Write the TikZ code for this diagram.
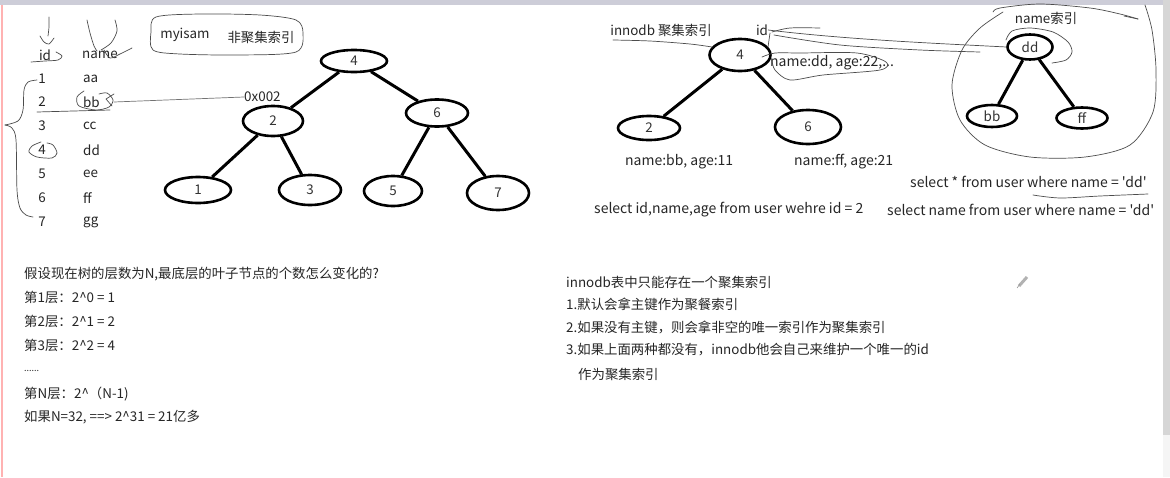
\documentclass[tikz,border=0pt]{standalone}
\usepackage{fontspec}
\newfontfamily\cjk{Noto Sans CJK SC}
\usetikzlibrary{shapes.geometric}
\tikzset{
  txt/.style={font=\cjk\fontsize{13.4}{15}\selectfont, text=black!85, inner sep=0pt},
  ltxt/.style={font=\cjk\fontsize{14}{16}\selectfont, text=black!85, inner sep=0pt},
  tnode/.style={ellipse, draw, line width=2.6pt, inner sep=0pt, font=\cjk\fontsize{13.4}{15}\selectfont, text=black!80},
  tedge/.style={line width=3pt},
  hand/.style={draw=black!70, line width=0.7pt, line cap=round, line join=round}
}
\begin{document}
\begin{tikzpicture}[x=1pt,y=-1pt]
\useasboundingbox (0,0) rectangle (1170,477);
\fill[white] (0,0) rectangle (1170,477);
% window frame
\fill[blue!12!gray!35] (0,0) rectangle (1163,5);
\fill[gray!32] (1163,0) rectangle (1170,435);
\fill[gray!8] (1163,435) rectangle (1170,477);
\draw[red!30, line width=1.2pt] (2,5) -- (2,477);

% ---------- left table ----------
\node[txt] (idh) at (45,55) {id};
\node[txt] (nameh) at (100,55) {name};
\foreach \i/\v/\y in {1/aa/79,2/bb/102,3/cc/126,4/dd/150,5/ee/174,6/ff/198,7/gg/222} {
  \node[txt] (i\i) at (42,\y) {\i};
  \node[txt,anchor=west] (v\i) at (83,\y) {\v};
}
\node[txt,anchor=west] (addr) at (244,97) {0x002};
\draw[hand, draw=black!55] ([xshift=14pt]v2.east) -- (addr.west);

% scribbles on table
\draw[hand] plot[smooth] coordinates {(49,17) (49,27) (48,36)};
\draw[hand] plot[smooth] coordinates {(40,36) (44,42) (49,44) (54,38)};
\draw[hand] plot[smooth] coordinates {(87,20) (90,33) (94,46) (97,51)};
\draw[hand] plot[smooth] coordinates {(115,20) (117,31) (111,43) (101,50)};
\draw[hand] plot[smooth] coordinates {(104,50) (110,58) (120,54) (132,48)};
\draw[hand] plot[smooth] coordinates {(31,62) (45,61) (58,60) (62,56) (56,52)};
\draw[hand] plot[smooth] coordinates {(84,91) (77,97) (79,106) (96,110) (109,107) (113,100) (107,93) (99,94)};
\draw[hand] (114,94) -- (106,99) -- (112,106);
\draw[hand] (37,112) -- (110,110);
\draw[hand] plot[smooth] coordinates {(41,142) (32,146) (29,152) (37,157) (52,158) (57,153) (53,145) (47,143)};
\draw[hand] plot[smooth] coordinates {(37,80) (28,82) (24,90) (23,110) (18,121) (5,125)};
\draw[hand] plot[smooth] coordinates {(5,125) (12,128) (16,140) (17,190) (20,208) (26,215) (33,217)};

% myisam label
\node[txt] (my) at (185,35) {myisam};
\node[txt] (fj) at (261,37) {非聚集索引};
\draw[hand] plot[smooth cycle] coordinates {(156,17) (200,14) (260,15) (296,20) (303,33) (296,52) (240,55) (180,54) (153,50) (151,32)};

% ---------- tree 1 ----------
\node[tnode, minimum width=66pt, minimum height=22pt] (a4) at (354,61) {4};
\node[tnode, minimum width=60pt, minimum height=30pt] (a2) at (273,121) {2};
\node[tnode, minimum width=62pt, minimum height=27pt] (a6) at (437,113) {6};
\node[tnode, minimum width=66pt, minimum height=26pt] (a1) at (198,190) {1};
\node[tnode, minimum width=62pt, minimum height=30pt] (a3) at (310,190) {3};
\node[tnode, minimum width=58pt, minimum height=30pt] (a5) at (393,191) {5};
\node[tnode, minimum width=62pt, minimum height=34pt] (a7) at (498,193) {7};
\draw[tedge] (a4) -- (a2);
\draw[tedge] (a4) -- (a6);
\draw[tedge] (a2) -- (a1);
\draw[tedge] (a2) -- (a3);
\draw[tedge] (a6) -- (a5);
\draw[tedge] (a6) -- (a7);

% ---------- tree 2 (innodb) ----------
\node[txt] (inn) at (661,30) {innodb 聚集索引};
\node[txt] (id) at (762,30) {id};
\node[tnode, minimum width=61pt, minimum height=32pt] (b4) at (740,55) {4};
\node[tnode, minimum width=62pt, minimum height=24pt] (b2) at (649,128) {2};
\node[tnode, minimum width=66pt, minimum height=34pt] (b6) at (808,127) {6};
\draw[tedge] (b4) -- (b2);
\draw[tedge] (b4) -- (b6);
\node[ltxt,anchor=west] (r4) at (770,63) {name:dd, age:22,...};
\node[ltxt,anchor=west] (r2) at (625,162) {name:bb, age:11};
\node[ltxt,anchor=west] (r6) at (794,162) {name:ff, age:21};

% ---------- tree 3 (name index) ----------
\node[txt] (nidx) at (1046,18) {name索引};
\node[tnode, minimum width=45pt, minimum height=25pt] (dd) at (1030,47) {dd};
\node[tnode, minimum width=50pt, minimum height=22pt] (bb) at (992,116) {bb};
\node[tnode, minimum width=51pt, minimum height=21pt] (ff) at (1082,118) {ff};
\draw[tedge] (dd) -- (bb);
\draw[tedge] (dd) -- (ff);

% scribbles on trees 2/3
\draw[hand] plot[smooth] coordinates {(613,40) (650,41) (690,44) (712,47)};
\draw[hand] plot[smooth] coordinates {(770,33) (769,40) (768,47)};
\draw[hand] plot[smooth] coordinates {(772,32) (790,28) (820,28)};
\draw[hand] (id.east) .. controls (850,40) and (950,44) .. (dd.west);
\draw[hand] plot[smooth] coordinates {(774,35) (840,45) (920,50) (980,52)};
\draw[hand] plot[smooth] coordinates {(762,57) (775,53) (800,53) (857,53) (886,62) (880,70) (823,75) (790,80) (775,70) (772,60)};
\draw[hand] plot[smooth] coordinates {(1006,40) (1012,31) (1030,28) (1053,32) (1068,42) (1072,52) (1066,60) (1052,63)};
\draw[hand] plot[smooth] coordinates {(1003,12) (980,28) (962,50) (952,85) (960,120) (985,145) (1030,157) (1085,157) (1130,145) (1153,112) (1156,70) (1152,30) (1145,5)};
\draw[hand] plot[smooth] coordinates {(993,12) (1000,8) (1040,4) (1090,8) (1120,14) (1138,19)};
\draw[hand] (1138,19) -- (1124,16);

% select statements
\node[ltxt,anchor=west] (s1) at (910,182) {select * from user where name = 'dd'};
\draw[hand] plot[smooth] coordinates {(1033,195) (1060,198) (1100,196) (1148,194)};
\node[ltxt,anchor=west] (s2) at (594,210) {select id,name,age from user wehre id = 2};
\node[ltxt,anchor=west] (s3) at (887,210) {select name from user where name = 'dd'};

% ---------- bottom left text ----------
\node[txt,anchor=west] (t1) at (24,274) {假设现在树的层数为N,最底层的叶子节点的个数怎么变化的?};
\node[txt,anchor=west] (t2) at (24,297) {第1层：2\^{}0 = 1};
\node[txt,anchor=west] (t3) at (24,321) {第2层：2\^{}1 = 2};
\node[txt,anchor=west] (t4) at (24,345) {第3层：2\^{}2 = 4};
\node[txt,anchor=west,font=\cjk\fontsize{9}{10}\selectfont] (t5) at (24,371) {......};
\node[txt,anchor=west] (t6) at (24,394) {第N层：2\^{}（N-1)};
\node[txt,anchor=west] (t7) at (24,417) {如果N=32, ==> 2\^{}31 = 21亿多};

% ---------- bottom right text ----------
\node[txt,anchor=west] (u1) at (566,282) {innodb表中只能存在一个聚集索引};
\node[txt,anchor=west] (u2) at (566,304) {1.默认会拿主键作为聚餐索引};
\node[txt,anchor=west] (u3) at (566,327) {2.如果没有主键，则会拿非空的唯一索引作为聚集索引};
\node[txt,anchor=west] (u4) at (566,350) {3.如果上面两种都没有，innodb他会自己来维护一个唯一的id};
\node[txt,anchor=west] (u5) at (578,374) {作为聚集索引};

% pencil icon
\draw[gray!60, line width=3pt] (1019,286) -- (1027,277);
\draw[gray!80, line width=0.6pt] (1017,288) -- (1020,284);
\end{tikzpicture}
\end{document}
